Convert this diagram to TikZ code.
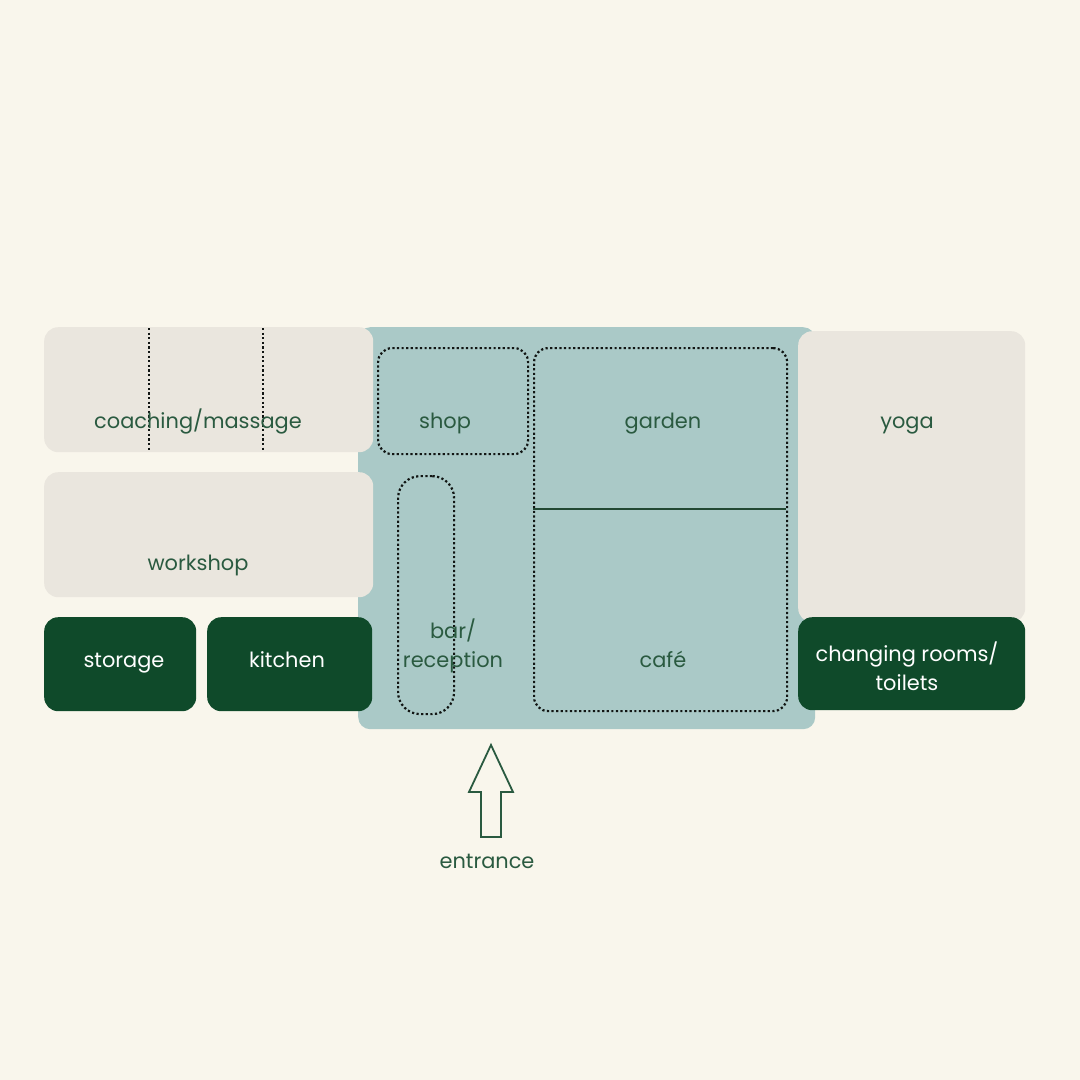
\documentclass[tikz,border=0pt]{standalone}
\usepackage{fontspec}
\setmainfont{Poppins}
\definecolor{bg}{HTML}{F9F6EC}
\definecolor{roomgray}{HTML}{EAE6DE}
\definecolor{teal}{HTML}{AAC9C7}
\definecolor{darkgr}{HTML}{0F4A2A}
\definecolor{txtgr}{HTML}{2A5A40}
\definecolor{dotc}{HTML}{111513}
\begin{document}
\begin{tikzpicture}[x=1pt,y=-1pt,
  box/.style={inner sep=0pt, rounded corners=14pt, anchor=north west},
  light/.style={box, fill=roomgray},
  dark/.style={box, fill=darkgr},
  dots/.style={draw=dotc, line width=2.2pt, dash pattern=on 2.2pt off 2.4pt},
  zone/.style={box, dots},
  lbl/.style={font=\fontsize{20.9}{29}\selectfont, text=txtgr, align=center, anchor=base},
  wlbl/.style={font=\fontsize{20.9}{29}\selectfont, text=white, align=center, anchor=base}]
\useasboundingbox (0,0) rectangle (1080,1080);
\fill[bg] (0,0) rectangle (1080,1080);
% central teal area
\node[box, fill=teal, rounded corners=12pt, minimum width=457pt, minimum height=402pt] (hall) at (358,327) {};
% left wing
\node[light, minimum width=329pt, minimum height=125pt] (coach) at (44,327) {};
\node[light, minimum width=329pt, minimum height=125pt] (work) at (44,472) {};
\node[dark, minimum width=152pt, minimum height=94pt] (stor) at (44,617) {};
\node[dark, minimum width=165pt, minimum height=94pt] (kitc) at (207,617) {};
% dotted dividers in coaching
\coordinate (d1t) at (149,328); \coordinate (d1b) at (149,451);
\coordinate (d2t) at (263,328); \coordinate (d2b) at (263,451);
\draw[dots] (d1t) -- (d1b);
\draw[dots] (d2t) -- (d2b);
% right wing
\node[light, minimum width=227pt, minimum height=291pt] (yoga) at (798,331) {};
\node[dark, minimum width=227pt, minimum height=93pt] (chng) at (798,617) {};
% zones
\node[zone, minimum width=150pt, minimum height=106pt] (shop) at (377,347) {};
\node[zone, minimum width=253pt, minimum height=363pt] (gard) at (533,347) {};
\node[zone, rounded corners=22pt, minimum width=56pt, minimum height=238pt] (bar) at (397,475) {};
\coordinate (sl) at (533,509); \coordinate (sr) at (786,509);
\draw[txtgr!80!black, line width=1.5pt] (sl) -- (sr);
% labels
\node[lbl] (tcoach) at (198,428) {coaching/massage};
\node[lbl] (twork) at (198,570) {workshop};
\node[wlbl] (tstor) at (124,667) {storage};
\node[wlbl] (tkitc) at (287,667) {kitchen};
\node[lbl] (tshop) at (445,428) {shop};
\node[lbl] (tgard) at (663,428) {garden};
\node[lbl, anchor=center, text height=12pt] (tbar) at (453,664) {bar/\\reception};
\node[lbl] (tcafe) at (663,667) {café};
\node[lbl] (tyoga) at (907,428) {yoga};
\node[wlbl, anchor=center] (tchng) at (907,666) {changing rooms/\\toilets};
% entrance arrow
\coordinate (tip) at (491,745);
\draw[txtgr, line width=1.8pt, line join=miter] (tip) -- (513,792) -- (501,792) -- (501,837) -- (481,837) -- (481,792) -- (469,792) -- cycle;
\node[lbl] (tent) at (487,868) {entrance};
\end{tikzpicture}
\end{document}
